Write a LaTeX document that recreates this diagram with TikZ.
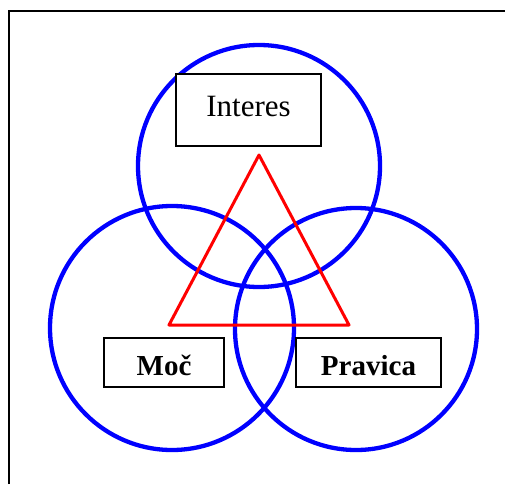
\documentclass[tikz,border=0pt]{standalone}
\usepackage{fontspec}
\setmainfont{Liberation Serif}
\usetikzlibrary{positioning}

\begin{document}
\begin{tikzpicture}[x=1pt, y=-1pt,
  krog/.style={draw=blue, line width=4.3pt},
  okvir/.style={draw, fill=white, line width=1.4pt, inner xsep=0pt, inner ysep=0pt}]
\useasboundingbox (0,0) rectangle (505,484);
% Frame
\draw[line width=1.5pt] (9,484) -- (9,11) -- (505,11);

% Circles
\draw[krog] (259,166) circle [radius=121pt];
\draw[krog] (172,328) circle [radius=122pt];
\draw[krog] (356,329) circle [radius=121pt];

% Triangle
\coordinate (vrh) at (259,155);
\coordinate (levo) at (169,325);
\coordinate (desno) at (349,325);
\draw[red, line width=3pt, line join=round] (vrh) -- (levo) -- (desno) -- cycle;

% Interes
\node[okvir, minimum width=145pt, text height=42pt, text depth=30pt,
  font=\fontsize{31}{36}\selectfont] (interes) at (248.5,110) {Interes};

% Moc
\node[okvir, minimum width=120pt, text height=37pt, text depth=12pt,
  font=\fontsize{29}{34}\selectfont\bfseries] (moc) at (164,362.5) {Moč};

% Pravica
\node[okvir, minimum width=145pt, text height=37pt, text depth=12pt,
  font=\fontsize{29}{34}\selectfont\bfseries] (pravica) at (368.5,362.5) {Pravica};
\end{tikzpicture}
\end{document}
